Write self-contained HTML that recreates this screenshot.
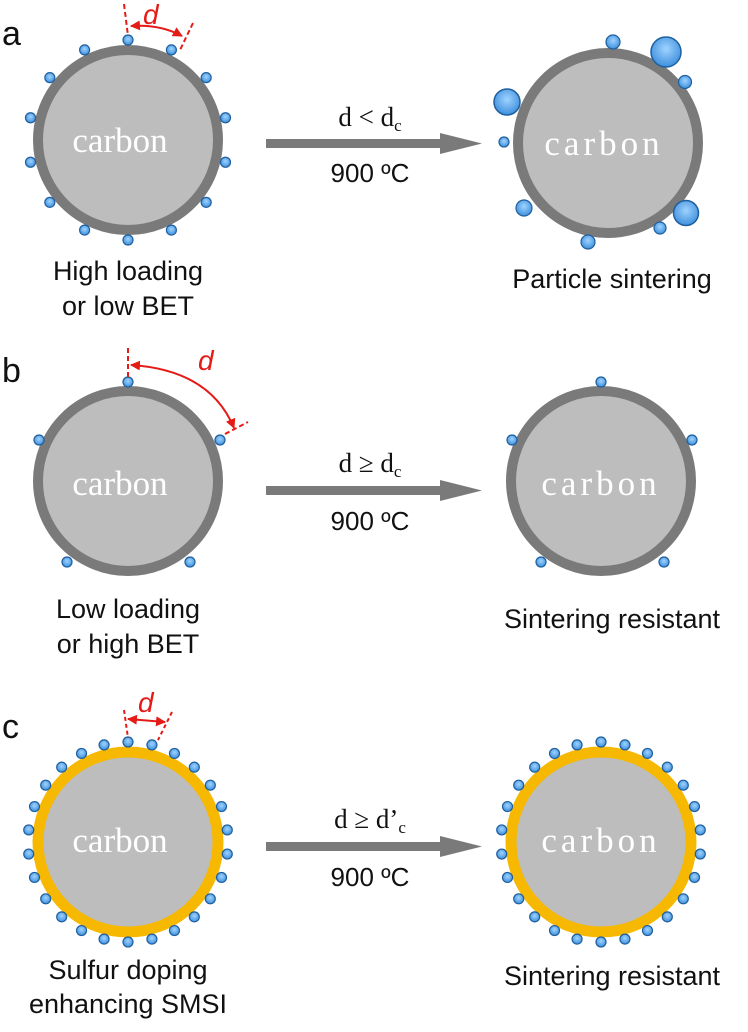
<!DOCTYPE html>
<html><head><meta charset="utf-8"><style>
html,body{margin:0;padding:0;background:#fff;}
svg{display:block;}
.lbl{font-family:"Liberation Sans",Arial,sans-serif;font-size:27px;fill:#111;text-anchor:middle;}
.car{font-family:"Liberation Serif",serif;font-size:35px;fill:#fff;text-anchor:middle;}
.mid{font-family:"Liberation Serif",serif;font-size:27px;fill:#111;text-anchor:middle;}
.mids{font-family:"Liberation Sans",Arial,sans-serif;font-size:26px;fill:#111;text-anchor:middle;}
.pl{font-family:"Liberation Sans",Arial,sans-serif;font-size:34px;fill:#111;}
.d{font-family:"Liberation Sans",Arial,sans-serif;font-size:28px;font-style:italic;fill:#e41b17;}
</style></head><body>
<svg id="s" width="748" height="1032" viewBox="0 0 748 1032" xmlns="http://www.w3.org/2000/svg">
<defs>
<radialGradient id="p" cx="50%" cy="40%" r="60%"><stop offset="0" stop-color="#9fd3ff"/><stop offset="1" stop-color="#3d8fdc"/></radialGradient>
<marker id="ah" viewBox="0 0 10 10" refX="9" refY="5" markerWidth="5" markerHeight="5" orient="auto-start-reverse"><path d="M0,0L10,5L0,10z" fill="#e41b17"/></marker>
</defs>
<text class="pl" x="2" y="45">a</text>
<text class="pl" x="2" y="382">b</text>
<text class="pl" x="2" y="738">c</text>
<circle cx="128" cy="140" r="90" fill="#bdbdbd" stroke="#7a7a7a" stroke-width="10"/>
<circle cx="608" cy="143" r="90" fill="#bdbdbd" stroke="#7a7a7a" stroke-width="10"/>
<circle cx="128" cy="481" r="90" fill="#bdbdbd" stroke="#7a7a7a" stroke-width="10"/>
<circle cx="601" cy="481" r="90" fill="#bdbdbd" stroke="#7a7a7a" stroke-width="10"/>
<circle cx="128" cy="842" r="90" fill="#bdbdbd" stroke="#f6b800" stroke-width="11"/>
<circle cx="601" cy="842" r="90" fill="#bdbdbd" stroke="#f6b800" stroke-width="11"/>
<text class="car" x="120" y="152">carbon</text>
<text class="car" x="604" y="155" letter-spacing="4">carbon</text>
<text class="car" x="120" y="495">carbon</text>
<text class="car" x="601" y="495" letter-spacing="4">carbon</text>
<text class="car" x="120" y="852">carbon</text>
<text class="car" x="601" y="852" letter-spacing="4">carbon</text>
<g id="dots"></g>
<g fill="#7a7a7a">
<rect x="266" y="139" width="180" height="9"/><path d="M440,133L482,143.5L440,154z"/>
<rect x="266" y="486" width="180" height="9"/><path d="M440,480L482,490.5L440,501z"/>
<rect x="266" y="842" width="180" height="9"/><path d="M440,836L482,846.5L440,857z"/>
</g>
<text class="mid" x="370" y="126">d &lt; d<tspan font-size="17" dy="5">c</tspan></text>
<text class="mids" x="370" y="182">900 ºC</text>
<text class="mid" x="370" y="472">d ≥ d<tspan font-size="17" dy="5">c</tspan></text>
<text class="mids" x="370" y="530">900 ºC</text>
<text class="mid" x="370" y="828">d ≥ d’<tspan font-size="17" dy="5">c</tspan></text>
<text class="mids" x="370" y="886">900 ºC</text>
<text class="lbl" x="128" y="280">High loading</text>
<text class="lbl" x="128" y="315">or low BET</text>
<text class="lbl" x="612" y="288">Particle sintering</text>
<text class="lbl" x="128" y="618">Low loading</text>
<text class="lbl" x="128" y="653">or high BET</text>
<text class="lbl" x="612" y="628">Sintering resistant</text>
<text class="lbl" x="128" y="979">Sulfur doping</text>
<text class="lbl" x="128" y="1013">enhancing SMSI</text>
<text class="lbl" x="612" y="985">Sintering resistant</text>
<g stroke="#e41b17" stroke-width="2" fill="none">
<path d="M124,4L128,36" stroke-dasharray="5,3"/><path d="M193,23L180,50" stroke-dasharray="5,3"/>
<path d="M131,26Q160,24 182,36" marker-start="url(#ah)" marker-end="url(#ah)"/>
<path d="M128,348L128,377" stroke-dasharray="5,3"/><path d="M225,434L248,422" stroke-dasharray="5,3"/>
<path d="M131,365Q210,370 234,428" marker-start="url(#ah)" marker-end="url(#ah)"/>
<path d="M124,710L128,738" stroke-dasharray="4,3"/><path d="M172,712L158,740" stroke-dasharray="4,3"/>
<path d="M128,719L165,722" marker-start="url(#ah)" marker-end="url(#ah)"/>
</g>
<text class="d" x="143" y="24">d</text>
<text class="d" x="198" y="370">d</text>
<text class="d" x="138" y="712">d</text>
</svg>
<script>
var g=document.getElementById('dots'),ns='http://www.w3.org/2000/svg';
function dot(x,y,r){var c=document.createElementNS(ns,'circle');c.setAttribute('cx',x);c.setAttribute('cy',y);c.setAttribute('r',r);c.setAttribute('fill','url(#p)');c.setAttribute('stroke','#1f5f9e');c.setAttribute('stroke-width',r>8?1.5:1.2);g.appendChild(c);}
function ring(cx,cy,R,n,r){for(var i=0;i<n;i++){var a=i*2*Math.PI/n;dot(cx+R*Math.sin(a),cy-R*Math.cos(a),r);}}
ring(128,140,100,14,5);
ring(128,842,100,26,5);
ring(601,842,100,26,5);
[[128,382],[39,440],[220,440],[67,562],[190,562],[601,382],[512,440],[692,440],[541,562],[664,562]].forEach(function(p){dot(p[0],p[1],5);});
[[613,42,7],[666,52,15],[685,82,6.5],[507,102,13],[504,142,5],[524,208,8],[686,213,12.5],[660,228,6],[588,242,7]].forEach(function(p){dot(p[0],p[1],p[2]);});
</script>
</body></html>
